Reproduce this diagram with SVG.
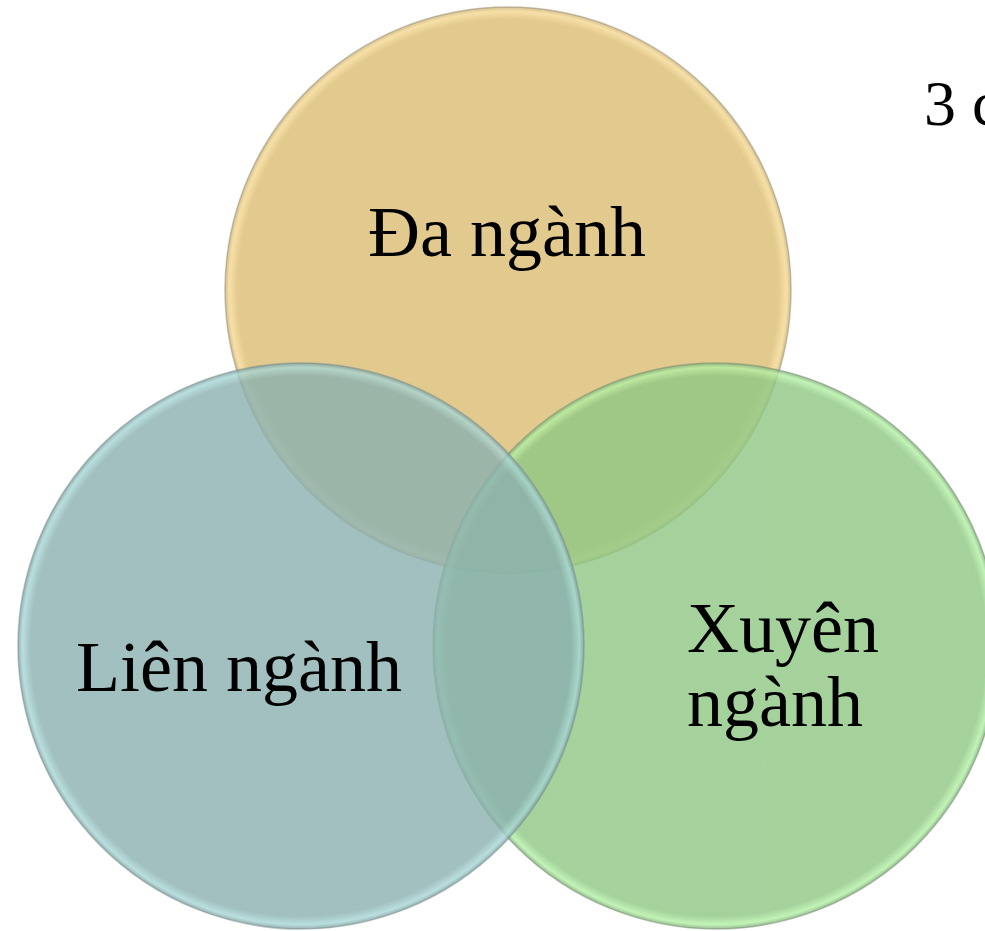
<svg xmlns="http://www.w3.org/2000/svg" width="985" height="931" viewBox="0 0 985 931">
  <defs>
    <radialGradient id="gTop" cx="0.5" cy="0.5" r="0.5">
      <stop offset="0" stop-color="#dbbc72"/>
      <stop offset="0.955" stop-color="#dbbc72"/>
      <stop offset="0.985" stop-color="#f5d890"/>
      <stop offset="1" stop-color="#c9b07a"/>
    </radialGradient>
    <radialGradient id="gLeft" cx="0.5" cy="0.5" r="0.5">
      <stop offset="0" stop-color="#8bb0b0"/>
      <stop offset="0.955" stop-color="#8bb0b0"/>
      <stop offset="0.985" stop-color="#a8d6d6"/>
      <stop offset="1" stop-color="#7f9e9e"/>
    </radialGradient>
    <radialGradient id="gRight" cx="0.5" cy="0.5" r="0.5">
      <stop offset="0" stop-color="#8fc783"/>
      <stop offset="0.955" stop-color="#8fc783"/>
      <stop offset="0.985" stop-color="#b2f0a4"/>
      <stop offset="1" stop-color="#80ab78"/>
    </radialGradient>
  </defs>
  <style>
    .c { fill-opacity: 0.8; stroke-width: 1.5; stroke-opacity: 0.55; }
    .t { font-family: "Liberation Serif", "Times New Roman", serif; font-size: 72px; fill: #000; }
  </style>
  <rect width="985" height="931" fill="#ffffff"/>
  <g id="node-da-nganh">
    <circle class="c" cx="508" cy="290" r="283" fill="url(#gTop)" stroke="#9b9274"/>
  </g>
  <g id="node-xuyen-nganh">
    <circle class="c" cx="716" cy="646" r="283" fill="url(#gRight)" stroke="#7a9474"/>
  </g>
  <g id="node-lien-nganh">
    <circle class="c" cx="301" cy="646" r="283" fill="url(#gLeft)" stroke="#7a9090"/>
  </g>
  <g id="labels">
    <text class="t" x="507" y="256" text-anchor="middle">Đa ngành</text>
    <text class="t" x="239" y="691" text-anchor="middle">Liên ngành</text>
    <text class="t" x="687" y="652">Xuyên</text>
    <text class="t" x="687" y="726">ngành</text>
    <text class="t" x="924" y="125" style="font-size:64px">3 c</text>
  </g>
  <g id="connectors"/>
</svg>
